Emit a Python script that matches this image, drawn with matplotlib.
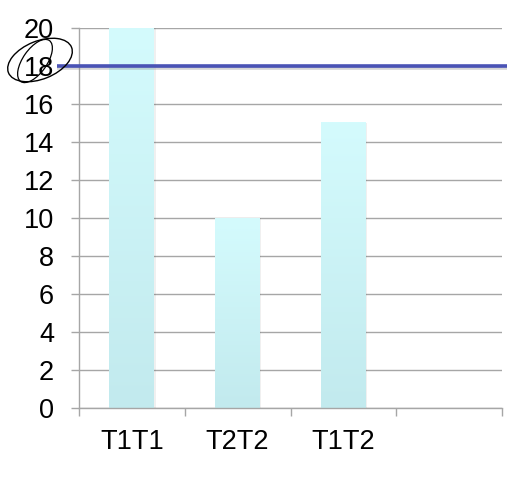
import numpy as np
import matplotlib
matplotlib.use("Agg")
import matplotlib.pyplot as plt
from matplotlib.patches import Ellipse
from matplotlib.transforms import Affine2D
import matplotlib.patheffects as pe

categories = ["T1T1", "T2T2", "T1T2", ""]
values = [20, 10, 15, 0]
threshold = 18
yticks = list(range(0, 21, 2))

plt.rcParams['font.family'] = ['Liberation Sans', 'DejaVu Sans']

W, H = 532, 486
fig = plt.figure(figsize=(W / 100, H / 100), dpi=100)
ax = fig.add_axes([79 / W, 78 / H, 423 / W, 380 / H])

n = len(categories)
x = np.arange(n)
bw = 0.425
top_c = np.array([0xD4, 0xFB, 0xFD]) / 255
bot_c = np.array([0xC2, 0xEA, 0xEE]) / 255
for xi, v in zip(x, values):
    if v <= 0:
        continue
    grad = np.linspace(0, 1, 256)[:, None, None]
    img = top_c * (1 - grad) + bot_c * grad
    ax.imshow(img, extent=[xi - bw / 2, xi + bw / 2, 0, v], aspect='auto',
              origin='upper', zorder=2, interpolation='bilinear')
    ax.bar(xi + 0.012, v, width=bw, color='#000000', alpha=0.06, zorder=1.5)

ax.set_xlim(-0.5, n - 0.5)
ax.set_ylim(0, 20)
ax.set_yticks(yticks)
ax.set_yticklabels([str(t) for t in yticks])
ax.set_xticks(np.arange(-0.5, n, 1.0))
ax.set_xticklabels([])
ax.set_xticks(x, minor=True)
ax.set_xticklabels(categories, minor=True)
ax.tick_params(axis='x', which='minor', length=0, pad=15, labelsize=19.5)
ax.tick_params(axis='x', which='major', length=6, color='#A6A6A6', width=1)
ax.tick_params(axis='y', length=6, color='#A6A6A6', width=1, pad=12, labelsize=19.5)
ax.grid(axis='y', color='#A6A6A6', linewidth=1, zorder=0)
ax.set_axisbelow(True)
for s in ['top', 'right']:
    ax.spines[s].set_visible(False)
for s in ['left', 'bottom']:
    ax.spines[s].set_color('#A6A6A6')
    ax.spines[s].set_linewidth(1)

# threshold line extending beyond the plot area
tr = ax.get_yaxis_transform()
ax.plot([-0.052, 1.012], [threshold, threshold], transform=tr, color='#4A53B5',
        linewidth=2.6, clip_on=False, zorder=5, solid_capstyle='butt',
        path_effects=[pe.SimpleLineShadow(offset=(0, -1.5), shadow_color='#888888', alpha=0.35),
                      pe.Normal()])

# hand-drawn circle around the "18" label (figure pixel coordinates, y from top)
pix = Affine2D().scale(1, -1).translate(0, H)
e1 = Ellipse((40, 60), 68, 38, angle=-22, fill=False, edgecolor='black',
             linewidth=1.0, transform=pix)
e2 = Ellipse((35, 61), 50, 24, angle=-55, fill=False, edgecolor='black',
             linewidth=0.9, transform=pix)
fig.patches.extend([e1, e2])

fig.savefig("out.png", dpi=100)
